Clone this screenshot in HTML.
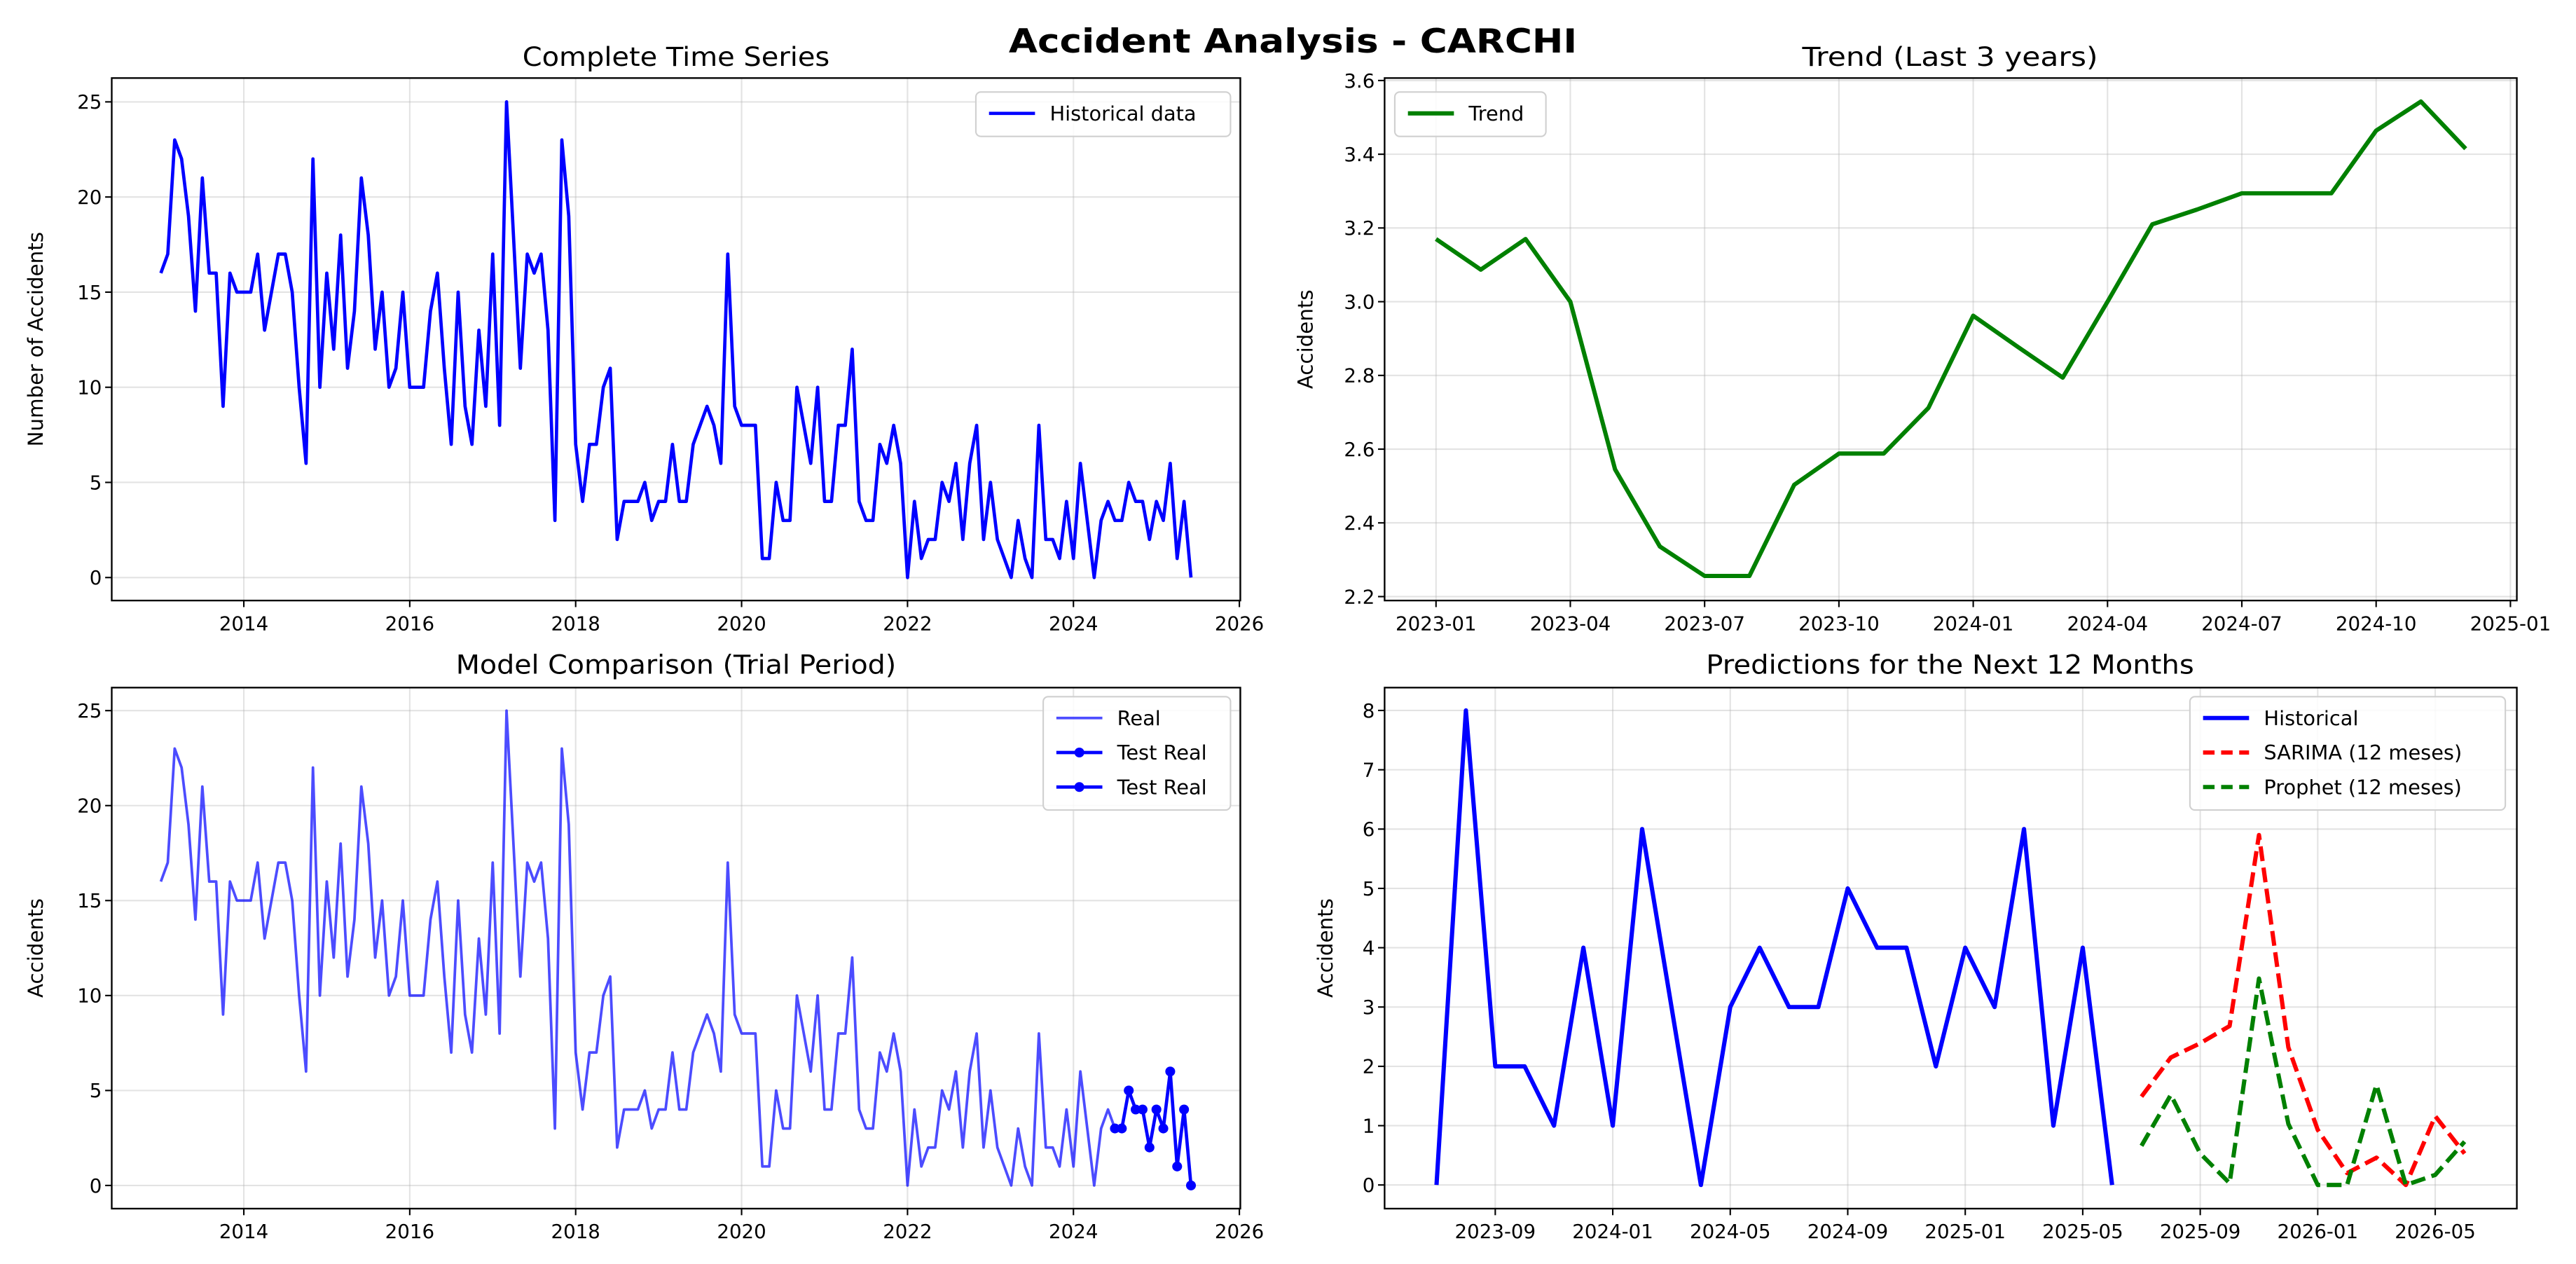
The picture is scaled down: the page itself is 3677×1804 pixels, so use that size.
<!DOCTYPE html>
<html><head><meta charset="utf-8"><title>Accident Analysis - CARCHI</title>
<style>
html,body{margin:0;padding:0;background:#fff;}
svg{display:block;font-family:"DejaVu Sans","Liberation Sans",sans-serif;}
</style></head>
<body>
<svg id="fig" width="3677" height="1804" viewBox="0 0 1568 769.3" xmlns="http://www.w3.org/2000/svg">
<rect x="0" y="0" width="1568" height="769.3" fill="#fff"/>
<text x="787" y="32" text-anchor="middle" font-size="20" font-weight="bold" textLength="346" lengthAdjust="spacingAndGlyphs">Accident Analysis - CARCHI</text>
<g id="g"></g>
</svg>
<script>
// ---- data ----
const historical = [16,17,23,22,19,14,21,16,16,9,16,15,15,15,17,13,15,17,17,15,10,6,22,10,16,12,18,11,14,21,18,12,15,10,11,15,10,10,10,14,16,11,7,15,9,7,13,9,17,8,25,18,11,17,16,17,13,3,23,19,7,4,7,7,10,11,2,4,4,4,5,3,4,4,7,4,4,7,8,9,8,6,17,9,8,8,8,1,1,5,3,3,10,8,6,10,4,4,8,8,12,4,3,3,7,6,8,6,0,4,1,2,2,5,4,6,2,6,8,2,5,2,1,0,3,1,0,8,2,2,1,4,1,6,3,0,3,4,3,3,5,4,4,2,4,3,6,1,4,0];
const trendValues = [3.17,3.087,3.17,3.0,2.545,2.336,2.256,2.256,2.503,2.588,2.588,2.712,2.962,2.877,2.794,3.0,3.21,3.25,3.294,3.294,3.294,3.464,3.543,3.415];
const sarimaForecast = [1.49,2.15,2.39,2.68,5.9,2.32,0.93,0.2,0.46,0.0,1.16,0.53];
const prophetForecast = [0.66,1.52,0.53,0.03,3.48,1.03,0.0,0.0,1.69,0.0,0.17,0.73];
const yearTicks = [2014,2016,2018,2020,2022,2024,2026];
const countTicks = [0,5,10,15,20,25];
const trendTicks = [2.2,2.4,2.6,2.8,3.0,3.2,3.4,3.6];
const trendDateLabels = ["2023-01","2023-04","2023-07","2023-10","2024-01","2024-04","2024-07","2024-10","2025-01"];
const predTicks = [0,1,2,3,4,5,6,7,8];
const predDateLabels = ["2023-09","2024-01","2024-05","2024-09","2025-01","2025-05","2025-09","2026-01","2026-05"];
const testStart = 138;

const NS="http://www.w3.org/2000/svg";
const G=document.getElementById('g');
function mk(tag,attrs,parent){const e=document.createElementNS(NS,tag);for(const k in attrs)e.setAttribute(k,attrs[k]);(parent||G).appendChild(e);return e;}
function txt(s,attrs,parent){const e=mk('text',attrs,parent);e.textContent=s;return e;}

function panel(name,L,T,R,B){
  const g=mk('g',{});
  
  
  return g;
}
function frame(g,L,T,R,B){
  const r=mk('rect',{x:L,y:T,width:R-L,height:B-T,fill:'none',stroke:'#000','stroke-width':1},g);
  
  
}
function gridY(g,L,R,ys){ys.forEach(y=>{mk('line',{x1:L,x2:R,y1:y,y2:y,stroke:'#b0b0b0','stroke-opacity':0.35,'stroke-width':0.9},g);});}
function gridX(g,T,B,xs){xs.forEach(x=>{mk('line',{x1:x,x2:x,y1:T,y2:B,stroke:'#b0b0b0','stroke-opacity':0.35,'stroke-width':0.9},g);});}
function yTicks(g,L,vals,yf,fmt){vals.forEach(v=>{const y=yf(v);mk('line',{x1:L-4,x2:L,y1:y,y2:y,stroke:'#000','stroke-width':0.9},g);
  const t=txt(fmt(v),{x:L-6,y:y+4.2,'text-anchor':'end','font-size':11.8},g);
  
  });}
function xTicks(g,B,xs,labels){xs.forEach((x,i)=>{mk('line',{x1:x,x2:x,y1:B,y2:B+4,stroke:'#000','stroke-width':0.9},g);
  const t=txt(labels[i],{x:x,y:B+18,'text-anchor':'middle','font-size':11.8},g);
  
  });}
function title(g,s,x,y,len){const t=txt(s,{x:x,y:y,'text-anchor':'middle','font-size':16,textLength:len,lengthAdjust:'spacingAndGlyphs'},g);
  
  }
function ylabel(g,s,x,y){const t=txt(s,{x:x,y:y,'text-anchor':'middle','font-size':12.5,transform:`rotate(-90 ${x} ${y})`},g);
  
  }
function poly(g,pts,attrs){const p=mk('polyline',Object.assign({points:pts.map(p=>p[0].toFixed(2)+','+p[1].toFixed(2)).join(' '),fill:'none','stroke-linejoin':'round'},attrs),g);return p;}
function legend(g,x,y,w,entries){
  const h=entries.length*21+6;
  const lg=mk('g',{},g);
  
  
  mk('rect',{x:x,y:y,width:w,height:h,rx:3,fill:'#fff','fill-opacity':0.85,stroke:'#d0d0d0','stroke-width':0.9},lg);
  entries.forEach((e,i)=>{const cy=y+13+i*21;
    const a={x1:x+8,x2:x+36,y1:cy,y2:cy,stroke:e.c,'stroke-width':e.w};
    if(e.dash)a['stroke-dasharray']=e.dash;
    if(e.op)a['stroke-opacity']=e.op;
    mk('line',a,lg);
    if(e.m)mk('circle',{cx:x+22,cy:cy,r:3,fill:e.c},lg);
    const t=txt(e.t,{x:x+45,y:cy+4.3,'font-size':12.3},lg);
    
    
  });
}

// ---- Panel 1: Complete time series ----
(function(){
  const L=68,T=47.5,R=755,B=365.5;
  const x=yf=>97.9+(yf-2013)*50.5, y=v=>351.5-v*11.58;
  const g=panel('complete-time-series-chart');
  gridY(g,L,R,countTicks.map(y)); gridX(g,T,B,yearTicks.map(x));
  const line=poly(g,historical.map((v,i)=>[x(2013+i/12),y(v)]),{stroke:'#0000ff','stroke-width':2});
  
  
  frame(g,L,T,R,B);
  yTicks(g,L,countTicks,y,v=>String(v));
  xTicks(g,B,yearTicks.map(x),yearTicks.map(String));
  title(g,'Complete Time Series',411.5,40,187);
  ylabel(g,'Number of Accidents',26,206.5);
  legend(g,594,56,155,[{t:'Historical data',c:'#0000ff',w:2}]);
})();

// ---- Panel 2: Trend ----
(function(){
  const L=842.8,T=47.5,R=1532,B=365.5;
  const x=i=>874.1+i*27.25, y=v=>363.1-(v-2.2)*(314.1/1.4);
  const g=panel('trend-chart');
  gridY(g,L,R,trendTicks.map(y)); gridX(g,T,B,trendDateLabels.map((s,i)=>x(i*3)));
  const line=poly(g,trendValues.map((v,i)=>[x(i),y(v)]),{stroke:'#008000','stroke-width':2.6});
  
  
  frame(g,L,T,R,B);
  yTicks(g,L,trendTicks,y,v=>v.toFixed(1));
  xTicks(g,B,trendDateLabels.map((s,i)=>x(i*3)),trendDateLabels);
  title(g,'Trend (Last 3 years)',1187,40,180);
  ylabel(g,'Accidents',799,206.5);
  legend(g,849,56,92,[{t:'Trend',c:'#008000',w:2.6}]);
})();

// ---- Panel 3: Model comparison ----
(function(){
  const L=68,T=418.5,R=755,B=735.6;
  const x=yf=>97.9+(yf-2013)*50.5, y=v=>721.5-v*11.56;
  const g=panel('model-comparison-chart');
  gridY(g,L,R,countTicks.map(y)); gridX(g,T,B,yearTicks.map(x));
  const line=poly(g,historical.map((v,i)=>[x(2013+i/12),y(v)]),{stroke:'#0000ff','stroke-opacity':0.7,'stroke-width':1.6});
  
  
  const test=historical.slice(testStart).map((v,k)=>[x(2013+(testStart+k)/12),y(v)]);
  const tl=poly(g,test,{stroke:'#0000ff','stroke-width':2});
  
  
  test.forEach(p=>{const c=mk('circle',{cx:p[0],cy:p[1],r:3,fill:'#0000ff'},g);
    
    });
  frame(g,L,T,R,B);
  yTicks(g,L,countTicks,y,v=>String(v));
  xTicks(g,B,yearTicks.map(x),yearTicks.map(String));
  title(g,'Model Comparison (Trial Period)',411.5,410,268);
  ylabel(g,'Accidents',26,577);
  legend(g,635,424,114,[{t:'Real',c:'#0000ff',w:1.6,op:0.7},{t:'Test Real',c:'#0000ff',w:2,m:true},{t:'Test Real',c:'#0000ff',w:2,m:true}]);
})();

// ---- Panel 4: Predictions ----
(function(){
  const L=842.8,T=418.5,R=1532,B=735.6;
  const x=m=>874.4+m*17.88, y=v=>721.2-v*36.1;
  const g=panel('predictions-chart');
  const tickM=predDateLabels.map((s,i)=>2+i*4);
  gridY(g,L,R,predTicks.map(y)); gridX(g,T,B,tickM.map(x));
  const hist=historical.slice(historical.length-24);
  const hl=poly(g,hist.map((v,i)=>[x(i),y(v)]),{stroke:'#0000ff','stroke-width':2.6});
  
  
  const sl=poly(g,sarimaForecast.map((v,i)=>[x(24+i),y(v)]),{stroke:'#ff0000','stroke-width':2.6,'stroke-dasharray':'9 4'});
  
  
  const pl=poly(g,prophetForecast.map((v,i)=>[x(24+i),y(v)]),{stroke:'#008000','stroke-width':2.6,'stroke-dasharray':'9 4'});
  
  
  frame(g,L,T,R,B);
  yTicks(g,L,predTicks,y,v=>String(v));
  xTicks(g,B,tickM.map(x),predDateLabels);
  title(g,'Predictions for the Next 12 Months',1187,410,297);
  ylabel(g,'Accidents',811,577);
  legend(g,1333,424,192,[{t:'Historical',c:'#0000ff',w:2.6},{t:'SARIMA (12 meses)',c:'#ff0000',w:2.6,dash:'7 4'},{t:'Prophet (12 meses)',c:'#008000',w:2.6,dash:'7 4'}]);
})();
</script>
</body></html>
